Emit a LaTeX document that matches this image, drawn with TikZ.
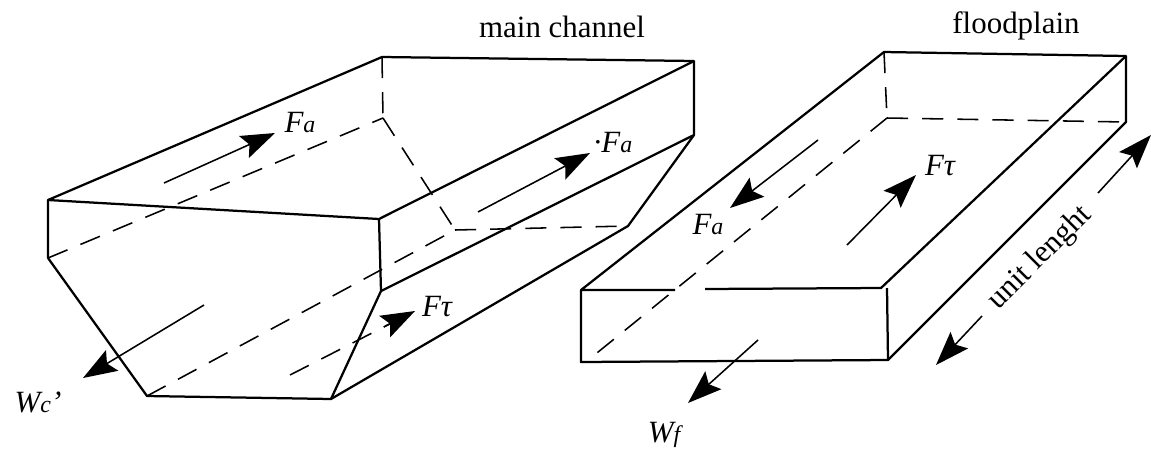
\documentclass[tikz,border=0pt]{standalone}
\usepackage{fontspec}
\setmainfont{Liberation Serif}
\usetikzlibrary{arrows.meta,calc}
\newcommand{\subsym}[1]{{\fontsize{17}{20}\selectfont #1}}

\begin{document}
\begin{tikzpicture}[
    x=0.025cm,y=-0.025cm,
    edge/.style={line width=1.6pt,line join=round},
    hidden/.style={line width=1.1pt,dash pattern=on 15pt off 10pt},
    force/.style={line width=1.1pt,-{Stealth[length=8.5mm,width=6mm,inset=1.5mm]}},
    dimline/.style={force},
    caption/.style={inner sep=0pt,font=\fontsize{22}{26}\selectfont},
    symbol/.style={inner sep=0pt,font=\fontsize{22}{26}\selectfont\itshape}
]
\useasboundingbox (0,0) rectangle (1151,456);

% main channel
\coordinate (mfl) at (48,200);
\coordinate (mfr) at (379,219);
\coordinate (mbl) at (382,57);
\coordinate (mbr) at (694,61);
\coordinate (mel) at (48,258);
\coordinate (mer) at (381,291);
\coordinate (mbe) at (383,118);
\coordinate (mbf) at (455,230);
\coordinate (mbq) at (628,226);
\coordinate (mrr) at (694,135);
\coordinate (mdl) at (147,396);
\coordinate (mdr) at (331,399);

\draw[edge] (mel) -- (mfl) -- (mbl) -- (mbr) -- (mrr) -- (mbq) -- (mdr) -- (mdl) -- (mel);
\draw[edge] (mfl) -- (mfr) -- (mbr);
\draw[edge] (mfr) -- (mer) -- (mdr);
\draw[edge] (mer) -- (mrr);
\draw[hidden] (mbl) -- (mbe);
\draw[hidden] (mel) -- (mbe);
\draw[hidden] (mbe) -- (mbf);
\draw[hidden] (mbf) -- (mbq);
\draw[hidden] (mdl) -- (mbf);

% floodplain
\coordinate (ffl) at (581,290);
\coordinate (ffr) at (881,288);
\coordinate (fgl) at (675,290);
\coordinate (fgr) at (705,289);
\coordinate (fbl) at (884,52);
\coordinate (fbr) at (1126,56);
\coordinate (fel) at (581,362);
\coordinate (fer) at (888,360);
\coordinate (ftr) at (887,288);
\coordinate (fbe) at (887,118);
\coordinate (fre) at (1126,122);
\coordinate (fhl) at (587,361);

\draw[edge] (fgl) -- (ffl) -- (fbl) -- (fbr) -- (fre) -- (fer) -- (fel) -- (ffl);
\draw[edge] (fgr) -- (ffr) -- (fbr);
\draw[edge] (ftr) -- (fer);
\draw[hidden] (fbl) -- (fbe);
\draw[hidden] (fbe) -- (fre);
\draw[hidden] (fbe) -- (fhl);

% forces
\coordinate (a1s) at (164,183);
\coordinate (a1e) at (275,133);
\coordinate (a2s) at (478,212);
\coordinate (a2e) at (590,153);
\coordinate (a3s) at (290,375);
\coordinate (a3e) at (415,311);
\coordinate (a4s) at (204,305);
\coordinate (a4e) at (83,378);
\coordinate (a5s) at (818,140);
\coordinate (a5e) at (730,208);
\coordinate (a6s) at (847,245);
\coordinate (a6e) at (916,175);
\coordinate (a7s) at (758,340);
\coordinate (a7e) at (688,403);
\coordinate (a8s) at (1098,193);
\coordinate (a8e) at (1151,135);
\coordinate (a9s) at (982,316);
\coordinate (a9e) at (936,365);

\draw[force] (a1s) -- (a1e);
\draw[force] (a2s) -- (a2e);
\draw[hidden] (a3s) -- (a3e);
\draw[force] ($(a3s)!0.75!(a3e)$) -- (a3e);
\draw[force] (a4s) -- (a4e);
\draw[force] (a5s) -- (a5e);
\draw[force] (a6s) -- (a6e);
\draw[force] (a7s) -- (a7e);
\draw[dimline] (a8s) -- (a8e);
\draw[dimline] (a9s) -- (a9e);

% labels
\node[caption] (mainlabel) at (562,27) {main channel};
\node[caption] (floodlabel) at (1016,26) {floodplain};
\node[symbol] (fa1) at (300,122) {F\subsym{a}};
\node[symbol] (fa2) at (613,142) {·F\subsym{a}};
\node[symbol] (ft1) at (437,307) {Fτ};
\node[symbol] (fa3) at (708,224) {F\subsym{a}};
\node[symbol] (ft2) at (940,166) {Fτ};
\node[symbol] (wc) at (38,402) {W\subsym{c}'};
\node[symbol] (wf) at (664,435) {W\subsym{f}};
\node[caption,rotate=45] (unitlabel) at (1040,258) {unit lenght};
\end{tikzpicture}
\end{document}
